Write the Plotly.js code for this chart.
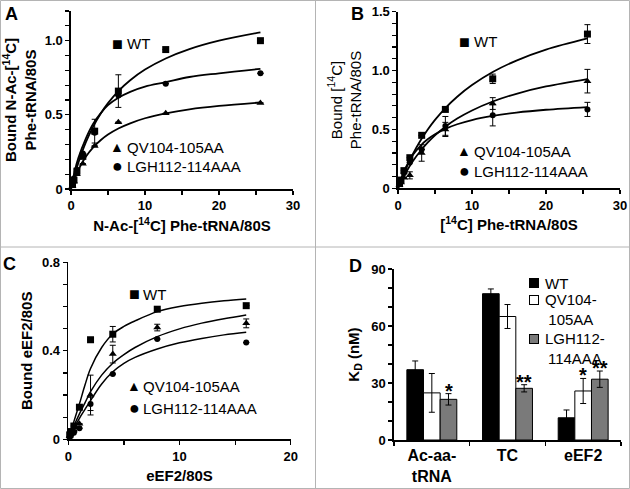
<!DOCTYPE html>
<html><head><meta charset="utf-8">
<script src="https://cdn.plot.ly/plotly-3.0.1.min.js"></script>
<style>html,body{margin:0;padding:0;background:#fff}</style>
</head><body><div id="chart" style="width:630px;height:489px"></div>
<script>
// ---------- Data ----------
// Panel A
const aX = [0.2, 0.4, 0.8, 1.6, 3.2, 6.4, 12.8, 25.6];
const aWT = [0.03, 0.06, 0.12, 0.22, 0.39, 0.66, 0.94, 1.0];
const aWTerr = [0, 0, 0, 0, 0.08, 0.11, 0, 0];
const aQV = [0.02, 0.05, 0.10, 0.17, 0.29, 0.45, 0.51, 0.58];
const aLGH = [0.03, 0.07, 0.13, 0.24, 0.38, 0.63, 0.71, 0.78];
const aFitX = [0, 0.5, 1, 2, 3, 4, 5, 6.4, 8, 10, 12.8, 16, 20, 25.6];
const aWTfit = [0, 0.096, 0.178, 0.314, 0.421, 0.508, 0.579, 0.66, 0.733, 0.805, 0.88, 0.943, 1.0, 1.056];
const aQVfit = [0, 0.071, 0.129, 0.217, 0.281, 0.329, 0.367, 0.408, 0.443, 0.477, 0.51, 0.537, 0.56, 0.583];
const aLGHfit = [0, 0.12, 0.21, 0.34, 0.44, 0.51, 0.565, 0.615, 0.655, 0.69, 0.72, 0.755, 0.78, 0.81];
// Panel B
const bX = [0.2, 0.4, 0.8, 1.6, 3.2, 6.4, 12.8, 25.6];
const bWT = [0.04, 0.07, 0.15, 0.26, 0.45, 0.67, 0.93, 1.31];
const bWTerr = [0, 0, 0, 0, 0, 0, 0.04, 0.08];
const bQV = [0.03, 0.05, 0.09, 0.11, 0.30, 0.50, 0.72, 0.91];
const bQVerr = [0, 0, 0, 0.03, 0.07, 0.06, 0.05, 0.10];
const bLGH = [0.04, 0.07, 0.13, 0.22, 0.33, 0.53, 0.62, 0.67];
const bLGHerr = [0, 0, 0, 0, 0, 0.08, 0.09, 0.06];
const bFitX = [0, 0.5, 1, 2, 3, 4, 5, 6.4, 8, 10, 12.8, 16, 20, 25.6];
const bWTfit = [0, 0.082, 0.157, 0.289, 0.401, 0.497, 0.581, 0.682, 0.778, 0.877, 0.988, 1.085, 1.178, 1.273];
const bQVfit = [0, 0.066, 0.126, 0.229, 0.315, 0.388, 0.45, 0.523, 0.592, 0.661, 0.737, 0.803, 0.865, 0.928];
const bLGHfit = [0, 0.097, 0.172, 0.283, 0.359, 0.416, 0.459, 0.505, 0.544, 0.58, 0.615, 0.643, 0.667, 0.69];
// Panel C
const cX = [0.125, 0.25, 0.5, 1, 2, 4, 8, 16];
const cWT = [0.02, 0.035, 0.06, 0.145, 0.45, 0.475, 0.588, 0.604];
const cWTerr = [0, 0, 0, 0, 0, 0.035, 0, 0];
const cQV = [0.015, 0.03, 0.04, 0.07, 0.20, 0.385, 0.505, 0.524];
const cQVerr = [0, 0, 0, 0, 0.09, 0.04, 0.015, 0.02];
const cLGH = [0.01, 0.02, 0.03, 0.05, 0.16, 0.295, 0.453, 0.437];
const cLGHerr = [0, 0, 0, 0, 0.03, 0, 0, 0];
const cFitX = [0, 0.5, 1, 1.5, 2, 3, 4, 5, 6, 8, 10, 12, 14, 16];
const cWTfit = [0, 0.08, 0.16, 0.245, 0.32, 0.415, 0.476, 0.51, 0.535, 0.577, 0.6, 0.615, 0.626, 0.634];
const cQVfit = [0, 0.06, 0.115, 0.165, 0.215, 0.29, 0.344, 0.383, 0.415, 0.464, 0.499, 0.525, 0.545, 0.562];
const cLGHfit = [0, 0.05, 0.095, 0.135, 0.175, 0.25, 0.305, 0.343, 0.37, 0.408, 0.436, 0.456, 0.472, 0.484];
// Panel D
const dCats = ['Ac-aa-<br>tRNA', 'TC', 'eEF2'];
const dWT = [37, 77, 11.7];
const dWTerr = [4.6, 2.5, 4.1];
const dQV = [24.8, 65, 25.8];
const dQVerr = [10.2, 6.3, 6.6];
const dLGH = [21.4, 27.2, 32];
const dLGHerr = [3, 1.9, 4.3];
const dQVsig = ['', '', '*'];
const dLGHsig = ['*', '**', '**'];
// Labels
const seriesNames = ['WT', 'QV104-105AA', 'LGH112-114AAA'];
const seriesNamesD = ['WT', 'QV104-<br>105AA', 'LGH112-<br>114AAA'];
const legendGlyphs = ['■', '▲', '●'];
const aYtickVals = [0, 0.5, 1.0], aYtickText = ['0', '0.5', '1.0'];
const bYtickVals = [0, 0.5, 1.0, 1.5], bYtickText = ['0', '0.5', '1.0', '1.5'];
const cYtickVals = [0, 0.4, 0.8], cYtickText = ['0', '0.4', '0.8'];
const dYtickVals = [0, 30, 60, 90], dYtickText = ['0', '30', '60', '90'];

// ---------- Styling helpers ----------
const FONT = 'Liberation Sans, Arial, Helvetica, sans-serif';
const W = 630, H = 489;
const px = v => v / W, py = v => 1 - v / H;
const tickFont = {family: FONT, size: 13, color: '#000', weight: 700};
const titleFont = {family: FONT, size: 15, color: '#000', weight: 700};

function xAxis(dom, range, dtick, minorD, anchor, title, standoff) {
  return {domain: dom, range: range, dtick: dtick, tick0: 0, anchor: anchor,
    showline: true, linecolor: '#000', linewidth: 1.6, showgrid: false, zeroline: false,
    ticks: 'outside', ticklen: 4, tickwidth: 1.2, tickcolor: '#000', tickfont: tickFont,
    minor: {dtick: minorD, tick0: 0, ticks: 'outside', ticklen: 4, tickwidth: 1.2, tickcolor: '#000', showgrid: false},
    title: {text: title, font: titleFont, standoff: standoff}, fixedrange: true};
}
function yAxis(dom, range, vals, text, minorD, anchor, title, tfont, standoff) {
  return {domain: dom, range: range, tickmode: 'array', tickvals: vals, ticktext: text, anchor: anchor,
    showline: true, linecolor: '#000', linewidth: 1.6, showgrid: false, zeroline: false,
    ticks: 'outside', ticklen: 4, tickwidth: 1.2, tickcolor: '#000', tickfont: tickFont,
    minor: {dtick: minorD, tick0: 0, ticks: 'outside', ticklen: 4, tickwidth: 1.2, tickcolor: '#000', showgrid: false},
    title: {text: title, font: tfont || titleFont, standoff: standoff}, fixedrange: true};
}

const symbols = ['square', 'triangle-up', 'circle'];
const msizes = [7, 7, 6];
function pts(x, ys, errs, xa, ya) {
  return ys.map((y, i) => ({
    type: 'scatter', mode: 'markers', x: x, y: y, xaxis: xa, yaxis: ya, showlegend: false,
    cliponaxis: false, name: seriesNames[i],
    marker: {symbol: symbols[i], size: msizes[i], color: '#000'},
    error_y: {type: 'data', array: errs[i] || y.map(() => 0), visible: true, color: '#000', thickness: 1, width: 3}
  }));
}
function fits(x, ys, xa, ya, lw) {
  return ys.map((y, i) => ({
    type: 'scatter', mode: 'lines', x: x, y: y, xaxis: xa, yaxis: ya, showlegend: false,
    line: {color: '#000', width: lw, shape: 'spline', smoothing: 1}, hoverinfo: 'skip', name: seriesNames[i] + ' fit'
  }));
}

const traces = [].concat(
  fits(aFitX, [aWTfit, aQVfit, aLGHfit], 'x', 'y', 1.8),
  pts(aX, [aWT, aQV, aLGH], [aWTerr, null, null], 'x', 'y'),
  fits(bFitX, [bWTfit, bQVfit, bLGHfit], 'x2', 'y2', 1.8),
  pts(bX, [bWT, bQV, bLGH], [bWTerr, bQVerr, bLGHerr], 'x2', 'y2'),
  fits(cFitX, [cWTfit, cQVfit, cLGHfit], 'x3', 'y3', 1.5),
  pts(cX, [cWT, cQV, cLGH], [cWTerr, cQVerr, cLGHerr], 'x3', 'y3')
);
const barColors = ['#000000', '#ffffff', '#7a7a7a'];
[[dWT, dWTerr], [dQV, dQVerr], [dLGH, dLGHerr]].forEach((s, i) => {
  traces.push({type: 'bar', x: dCats, y: s[0], xaxis: 'x4', yaxis: 'y4', name: seriesNames[i], showlegend: false,
    marker: {color: barColors[i], line: {color: '#000', width: 1}},
    error_y: {type: 'data', array: s[1], visible: true, color: '#000', thickness: 1, width: 3}});
});

// ---------- Annotations ----------
const ann = [];
function txt(x, y, text, font, xanchor, yanchor) {
  ann.push({xref: 'paper', yref: 'paper', x: px(x), y: py(y), text: text, showarrow: false,
    font: font, xanchor: xanchor || 'left', yanchor: yanchor || 'middle', borderpad: 0});
}
const panelFont = {family: FONT, size: 18, color: '#000', weight: 700};
txt(4, 14, 'A', panelFont); txt(350, 14, 'B', panelFont);
txt(2, 264, 'C', panelFont); txt(348, 266, 'D', panelFont);

const legFont = {family: FONT, size: 15, color: '#000'};
const glyphSizes = [18, 14, 18];
const legendLayouts = [
  {sx: 117, tx: 126, ys: [44, 147, 166]},
  {sx: 464, tx: 473, ys: [42, 151, 171]},
  {sx: 134, tx: 142, ys: [294, 386, 408]}
];
legendLayouts.forEach(L => {
  seriesNames.forEach((n, i) => {
    txt(L.sx, L.ys[i], legendGlyphs[i], {family: FONT, size: glyphSizes[i], color: '#000'}, 'center');
    txt(L.tx, L.ys[i], n, legFont);
  });
});
// Panel D legend: colour swatches (outlined boxes) + labels
const dLegY = [283, 300, 339];
const dLegTextY = [283, 309.7, 348];
seriesNamesD.forEach((n, i) => {
  ann.push({xref: 'paper', yref: 'paper', x: px(534), y: py(dLegY[i]), text: '', showarrow: false,
    width: 8, height: 8, bgcolor: barColors[i], bordercolor: '#000', borderwidth: 1, borderpad: 0,
    xanchor: 'center', yanchor: 'middle', font: {size: 1}});
  txt(544, dLegTextY[i], n, legFont);
});
// significance stars
const starFont = {family: FONT, size: 20, color: '#000', weight: 700};
[[dQV, dQVerr, dQVsig, 0], [dLGH, dLGHerr, dLGHsig, 16.7]].forEach(s => {
  s[2].forEach((t, k) => {
    if (!t) return;
    ann.push({xref: 'x4', yref: 'y4', x: dCats[k], y: s[0][k] + s[1][k], text: t, showarrow: false,
      xshift: s[3], yshift: 3, xanchor: 'center', yanchor: 'middle', font: starFont});
  });
});

// ---------- Panel frames ----------
const frame = {color: '#b4b4b4', width: 1};
const shapes = [
  {type: 'rect', xref: 'paper', yref: 'paper', x0: px(0.5), x1: px(629.5), y0: py(488.5), y1: py(0.5), line: frame},
  {type: 'line', xref: 'paper', yref: 'paper', x0: px(315.5), x1: px(315.5), y0: 0, y1: 1, line: frame},
  {type: 'line', xref: 'paper', yref: 'paper', x0: 0, x1: 1, y0: py(247), y1: py(247), line: frame}
];

const layout = {
  width: W, height: H, margin: {l: 0, r: 0, t: 0, b: 0}, paper_bgcolor: '#fff', plot_bgcolor: 'rgba(0,0,0,0)',
  showlegend: false, barmode: 'group', bargap: 0.34, bargroupgap: 0,
  font: {family: FONT, color: '#000'},
  xaxis: xAxis([px(71), px(293)], [0, 30], 10, 5, 'y', 'N-Ac-[<sup>14</sup>C] Phe-tRNA/80S', 8),
  yaxis: yAxis([py(189), py(11)], [0, 1.2], aYtickVals, aYtickText, 0.1, 'x', 'Bound N-Ac-[<sup>14</sup>C]<br>Phe-tRNA/80S', null, 6),
  xaxis2: xAxis([px(398), px(620)], [0, 30], 10, 5, 'y2', '[<sup>14</sup>C] Phe-tRNA/80S', 8),
  yaxis2: yAxis([py(188.3), py(11.7)], [0, 1.5], bYtickVals, bYtickText, 0.1, 'x2', 'Bound [<sup>14</sup>C]<br>Phe-tRNA/80S', {family: FONT, size: 15, color: '#000', weight: 400}, 6),
  xaxis3: xAxis([px(68.3), px(290.7)], [0, 20], 10, 5, 'y3', 'eEF2/80S', 8),
  yaxis3: yAxis([py(439.3), py(262.3)], [0, 0.8], cYtickVals, cYtickText, 0.1, 'x3', 'Bound eEF2/80S', null, 6),
  xaxis4: {domain: [px(394), px(621)], type: 'category', anchor: 'y4', showline: true, linecolor: '#000', linewidth: 1.6,
    ticks: 'outside', tickson: 'boundaries', ticklen: 4, tickwidth: 1.2, tickcolor: '#000', showgrid: false,
    tickfont: {family: FONT, size: 16, color: '#000', weight: 700}, fixedrange: true},
  yaxis4: yAxis([py(440), py(269)], [0, 90], dYtickVals, dYtickText, 10, 'x4', 'K<sub>D</sub> (nM)', null, 8),
  annotations: ann, shapes: shapes
};
Plotly.newPlot('chart', traces, layout, {displayModeBar: false, staticPlot: true});
</script></body></html>
